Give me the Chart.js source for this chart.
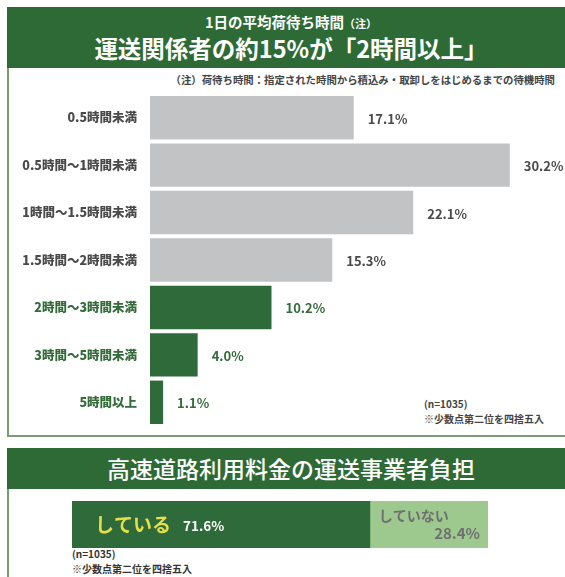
<!DOCTYPE html>
<html lang="ja">
<head>
<meta charset="utf-8">
<script src="https://cdn.jsdelivr.net/npm/chart.js@4"></script>
<style>
  html, body { margin:0; padding:0; background:#fff; width:565px; height:577px; overflow:hidden; }
  body { position:relative; font-family:"Noto Sans CJK JP","Noto Sans",sans-serif; }
  .panel { position:absolute; left:7px; width:568px; border:2px solid #7a9a70; box-sizing:border-box; background:#fff; }
  .head { position:absolute; left:-2px; right:-2px; top:-2px; background:#2e6a36; color:#fff; text-align:center; }
  .abs { position:absolute; white-space:nowrap; }
  canvas { position:absolute; left:0; }
</style>
</head>
<body>
<div class="panel" style="top:7px;height:430px;">
  <div class="head" style="height:61px;">
    <div class="abs" style="left:0;right:0;top:5px;font-size:14.5px;font-weight:700;line-height:20px;">1日の平均荷待ち時間<span style="font-size:11px;">（注）</span></div>
    <div class="abs" style="left:0;right:0;top:26px;font-size:23.5px;font-weight:700;line-height:30px;">運送関係者の約15%が「2時間以上」</div>
  </div>
</div>
<div class="abs" style="right:10px;top:72px;font-size:10.4px;font-weight:700;color:#444;line-height:16px;">（注）荷待ち時間：指定された時間から積込み・取卸しをはじめるまでの待機時間</div>
<div class="abs" style="left:424px;top:396px;font-size:10px;font-weight:700;color:#444;line-height:15px;">(n=1035)<br>※少数点第二位を四捨五入</div>

<div class="panel" style="top:448px;height:140px;">
  <div class="head" style="height:41px;">
    <div class="abs" style="left:0;right:0;top:4px;font-size:23px;font-weight:500;line-height:32px;">高速道路利用料金の運送事業者負担</div>
  </div>
</div>
<div class="abs" style="left:72px;top:546px;font-size:10px;font-weight:700;color:#333;line-height:15px;">(n=1035)<br>※少数点第二位を四捨五入</div>

<canvas id="c1" width="565" height="345" style="top:88px;"></canvas>
<canvas id="c2" width="565" height="60" style="top:495px;"></canvas>

<script>
// ---- data: chart 1 ----
const waitCategories = ["0.5時間未満","0.5時間〜1時間未満","1時間〜1.5時間未満","1.5時間〜2時間未満","2時間〜3時間未満","3時間〜5時間未満","5時間以上"];
const waitValues = [17.1, 30.2, 22.1, 15.3, 10.2, 4.0, 1.1];
const waitHighlight = [false, false, false, false, true, true, true];

// ---- data: chart 2 ----
const tollCategories = ["負担"];
const tollLabels = ["している", "していない"];
const tollValues = [71.6, 28.4];

const GRAY = "#c1c3c4", GREEN = "#2f6a3a", LIGHT = "#9dc98e";
const GRAY_TXT = "#4a4a4a", GREEN_TXT = "#346b3a";
const FONT = '"Noto Sans CJK JP","Noto Sans",sans-serif';

Chart.defaults.font.family = FONT;

const valueLabels = {
  id: "valueLabels",
  afterDatasetsDraw(chart) {
    const ctx = chart.ctx;
    const meta = chart.getDatasetMeta(0);
    ctx.save();
    ctx.font = "bold 13px " + FONT;
    ctx.textBaseline = "middle";
    ctx.textAlign = "left";
    meta.data.forEach((bar, i) => {
      ctx.fillStyle = waitHighlight[i] ? GREEN_TXT : GRAY_TXT;
      ctx.fillText(waitValues[i].toFixed(1) + "%", bar.x + 14, bar.y + 1);
    });
    ctx.restore();
  }
};

new Chart(document.getElementById("c1"), {
  type: "bar",
  data: {
    labels: waitCategories,
    datasets: [{
      data: waitValues,
      backgroundColor: waitHighlight.map(h => h ? GREEN : GRAY),
      borderWidth: 0,
      barPercentage: 0.915,
      categoryPercentage: 1
    }]
  },
  options: {
    indexAxis: "y",
    responsive: false,
    animation: false,
    devicePixelRatio: 1,
    layout: { padding: { left: 0, top: 6, right: 10, bottom: 7 } },
    plugins: { legend: { display: false }, tooltip: { enabled: false } },
    scales: {
      x: { display: false, min: 0, max: 34 },
      y: {
        grid: { display: false, drawTicks: false },
        border: { display: false },
        afterFit(scale) { scale.width = 150; scale.paddingTop = 0; scale.paddingBottom = 0; },
        ticks: {
          padding: 13,
          font: { size: 12.5, weight: 900 },
          color: (c) => waitHighlight[c.index] ? GREEN_TXT : GRAY_TXT
        }
      }
    }
  },
  plugins: [valueLabels]
});

const tollText = {
  id: "tollText",
  afterDatasetsDraw(chart) {
    const ctx = chart.ctx;
    const a = chart.getDatasetMeta(0).data[0];
    const b = chart.getDatasetMeta(1).data[0];
    ctx.save();
    ctx.textBaseline = "middle";
    ctx.textAlign = "left";
    ctx.font = "bold 19px " + FONT;
    ctx.fillStyle = "#e6df45";
    ctx.fillText(tollLabels[0], a.base + 23, a.y);
    ctx.font = "bold 13.5px " + FONT;
    ctx.fillStyle = "#ffffff";
    ctx.fillText(tollValues[0].toFixed(1) + "%", a.base + 111, a.y + 1);
    ctx.font = "bold 14px " + FONT;
    ctx.fillStyle = "#6f6f72";
    ctx.fillText(tollLabels[1], b.base + 9, b.y - 9);
    ctx.textAlign = "right";
    ctx.font = "bold 15px " + FONT;
    ctx.fillText(tollValues[1].toFixed(1) + "%", b.x - 8, b.y + 9);
    ctx.restore();
  }
};

new Chart(document.getElementById("c2"), {
  type: "bar",
  data: {
    labels: tollCategories,
    datasets: [
      { label: tollLabels[0], data: [tollValues[0]], backgroundColor: GREEN, borderWidth: 0, barPercentage: 1, categoryPercentage: 1 },
      { label: tollLabels[1], data: [tollValues[1]], backgroundColor: LIGHT, borderWidth: 0, barPercentage: 1, categoryPercentage: 1 }
    ]
  },
  options: {
    indexAxis: "y",
    responsive: false,
    animation: false,
    devicePixelRatio: 1,
    layout: { padding: { left: 72, top: 6, right: 77, bottom: 7 } },
    plugins: { legend: { display: false }, tooltip: { enabled: false } },
    scales: {
      x: { display: false, stacked: true, min: 0, max: 100 },
      y: { display: false, stacked: true }
    }
  },
  plugins: [tollText]
});
</script>
</body>
</html>
